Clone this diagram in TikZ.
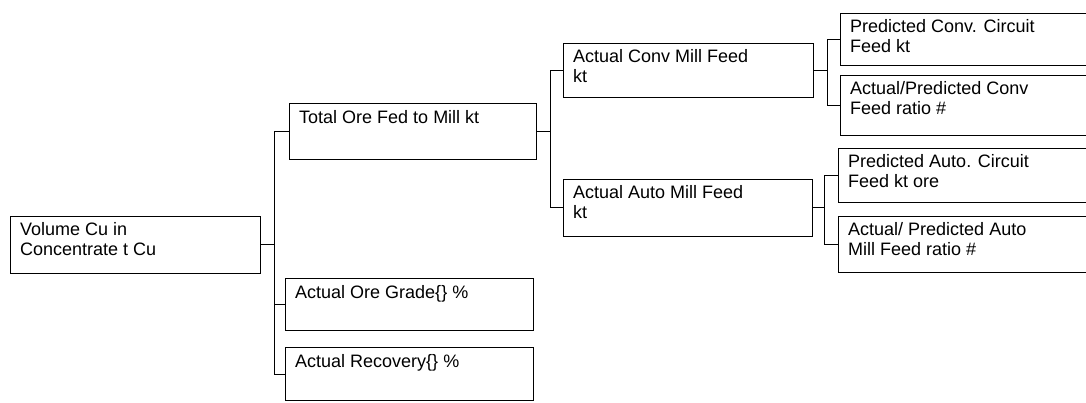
\documentclass[tikz,border=0pt]{standalone}
\usepackage{fontspec}
\setmainfont{Liberation Sans}
\begin{document}
\begin{tikzpicture}[x=1pt,y=-1pt,
  box/.style={draw, line width=1pt, rectangle, inner sep=0pt, anchor=north west},
  boxtext/.style={anchor=north west, inner sep=0pt, align=left,
    font=\fontsize{18}{20}\selectfont, execute at begin node=\strut},
  link/.style={draw, line width=1pt}]
\clip (0,0) rectangle (1086,403);
\fill[white] (0,0) rectangle (1086,403);
% box: name, left, top, width, height, text
\newcommand\treebox[6]{%
  \node[box, minimum width=#4pt, minimum height=#5pt] (#1) at (#2,#3) {};
  \node[boxtext] (#1-t) at ([xshift=10pt,yshift=-6pt]#1.north west) {#6};}
\treebox{root}{10}{216}{250}{57}{Volume Cu in\\Concentrate t Cu}
\treebox{total}{289}{103}{247}{56}{Total Ore Fed to Mill kt}
\treebox{grade}{285}{278}{248}{52}{Actual Ore Grade\{\} \%}
\treebox{recovery}{285}{347}{248}{53}{Actual Recovery\{\} \%}
\treebox{conv}{563}{43}{250}{54}{Actual Conv Mill Feed\\kt}
\treebox{auto}{563}{179}{249}{57}{Actual Auto Mill Feed\\kt}
\treebox{pconv}{840}{13}{260}{52}{Predicted Conv. Circuit\\Feed kt}
\treebox{apconv}{840}{75}{260}{60}{Actual/Predicted Conv\\Feed ratio \#}
\treebox{pauto}{838}{148}{260}{54}{Predicted Auto. Circuit\\Feed kt ore}
\treebox{apauto}{838}{216}{260}{56}{Actual/ Predicted Auto\\Mill Feed ratio \#}
% branch points
\coordinate (j1) at (274,0);
\coordinate (j2) at (550,0);
\coordinate (j3) at (827,0);
\coordinate (j4) at (824,0);
% root -> level 1
\draw[link] (root.east) -- (root.east -| j1);
\draw[link] (total.west) -- (total.west -| j1) -- (recovery.west -| j1) -- (recovery.west);
\draw[link] (grade.west) -- (grade.west -| j1);
% total -> mill feeds
\draw[link] (total.east) -- (total.east -| j2);
\draw[link] (conv.west) -- (conv.west -| j2) -- (auto.west -| j2) -- (auto.west);
% conv -> predicted / ratio
\draw[link] (conv.east) -- (conv.east -| j3);
\draw[link] (pconv.west) -- (pconv.west -| j3) -- (apconv.west -| j3) -- (apconv.west);
% auto -> predicted / ratio
\draw[link] (auto.east) -- (auto.east -| j4);
\draw[link] (pauto.west) -- (pauto.west -| j4) -- (apauto.west -| j4) -- (apauto.west);
\end{tikzpicture}
\end{document}
